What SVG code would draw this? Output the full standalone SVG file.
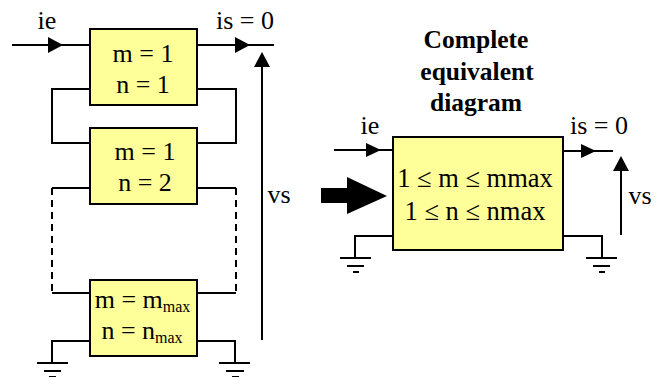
<svg xmlns="http://www.w3.org/2000/svg" width="671" height="377" viewBox="0 0 671 377">
<defs>
<style>
.b{fill:#ffff99;stroke:#000;stroke-width:2}
.l{fill:none;stroke:#000;stroke-width:2}
.t{font-family:"Liberation Serif",serif;font-size:26px;fill:#000;text-anchor:middle}
.s{font-size:16px}
.h{font-weight:bold;font-size:25.5px}
.w{font-size:26.500px}
.a{fill:#000;stroke:none}
.d{stroke-dasharray:7 5}
</style>
</defs>
<rect width="671" height="377" fill="#fff"/>
<g id="connectors">
<path class="l" d="M12 45H90M197 45H274"/>
<path class="a" d="M48 37L63 45L48 53Z"/>
<path class="a" d="M235 37L250 45L235 53Z"/>
<path class="l" d="M262 340V66"/>
<path class="a" d="M254 67L262 52L270 67Z"/>
<path class="l" d="M90 89H52V143H90M197 89H236V143H197"/>
<path class="l" d="M90 188H52M197 188H236"/>
<path class="l d" d="M52 188V293M236 188V293"/>
<path class="l" d="M52 293H90M197 293H236"/>
<path class="l" d="M90 341H52V363M197 341H235V363"/>
<path class="l" d="M37 363H68M44 371H61M49 377H56M219 363H250M226 371H244M232 377H239"/>
<path class="l" d="M334 150H393M563 151H613"/>
<path class="a" d="M366 143L381 150L366 157Z"/>
<path class="a" d="M581 144L596 151L581 158Z"/>
<path class="l" d="M621 235V170"/>
<path class="a" d="M613 171L621 156L629 171Z"/>
<path class="l" d="M393 236H355V258M563 236H602V258"/>
<path class="l" d="M340 258H371M347 266H364M353 272H359M586 258H617M593 266H610M599 272H605"/>
<path class="a" d="M321 188H347V177L387 196L347 214V203H321Z"/>
</g>
<g id="node-1"><rect class="b" x="90" y="29" width="107" height="76"/><text class="t" x="143" y="62">m = 1</text><text class="t" x="143" y="93">n = 1</text></g>
<g id="node-2"><rect class="b" x="90" y="128" width="107" height="76"/><text class="t" x="145" y="160">m = 1</text><text class="t" x="145" y="191">n = 2</text></g>
<g id="node-3"><rect class="b" x="90" y="280" width="107" height="76"/><text class="t" x="142.500" y="308">m = m<tspan class="s" dy="4">max</tspan></text><text class="t" x="142" y="339">n = n<tspan class="s" dy="4">max</tspan></text></g>
<g id="node-4"><rect class="b" x="393" y="137" width="170" height="113"/><text class="t w" x="475" y="187">1 ≤ m ≤ mmax</text><text class="t w" x="475" y="220">1 ≤ n ≤ nmax</text></g>
<g id="labels">
<text class="t" x="47" y="29">ie</text>
<text class="t" x="245" y="29">is = 0</text>
<text class="t" x="279" y="203">vs</text>
<text class="t h" x="476" y="48">Complete</text>
<text class="t h" x="477" y="80">equivalent</text>
<text class="t h" x="476" y="111">diagram</text>
<text class="t" x="370" y="134">ie</text>
<text class="t" x="599" y="134">is = 0</text>
<text class="t" x="640" y="204">vs</text>
</g>
</svg>
